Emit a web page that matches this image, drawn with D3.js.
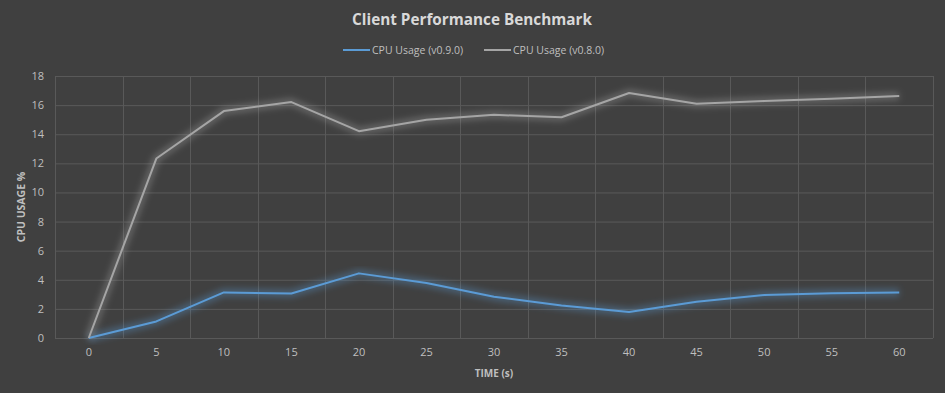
<!DOCTYPE html>
<html>
<head>
<meta charset="utf-8">
<script src="https://cdn.jsdelivr.net/npm/d3@7"></script>
<style>
  body { margin: 0; background: #404040; }
  svg { display: block; }
</style>
</head>
<body>
<svg id="chart"></svg>
<script>
// Chart data
const times = [0, 5, 10, 15, 20, 25, 30, 35, 40, 45, 50, 55, 60];
const cpuV090 = [0, 1.14, 3.13, 3.06, 4.44, 3.78, 2.84, 2.24, 1.78, 2.49, 2.95, 3.08, 3.13];
const cpuV080 = [0, 12.33, 15.59, 16.21, 14.21, 14.99, 15.33, 15.17, 16.83, 16.09, 16.28, 16.44, 16.62];
const yTicks = [0, 2, 4, 6, 8, 10, 12, 14, 16, 18];

const series = [
    {name: "CPU Usage (v0.9.0)", values: cpuV090, color: "#5b9bd5"},
    {name: "CPU Usage (v0.8.0)", values: cpuV080, color: "#a5a5a5"}
];

const W = 945, H = 393;
const margin = {top: 76, right: 12, bottom: 55, left: 55};
const width = W - margin.left - margin.right,
    height = H - margin.top - margin.bottom;

const root = d3.select("#chart")
    .attr("width", W)
    .attr("height", H)
    .style("font-family", "'Open Sans', 'Noto Sans', sans-serif");

root.append("rect")
    .attr("width", W)
    .attr("height", H)
    .attr("fill", "#404040");

// glow filter for the lines
const defs = root.append("defs");
const glow = defs.append("filter")
    .attr("id", "glow")
    .attr("x", "-10%").attr("y", "-10%")
    .attr("width", "120%").attr("height", "120%");
glow.append("feGaussianBlur")
    .attr("stdDeviation", 3);

const svg = root.append("g")
    .attr("transform", `translate(${margin.left},${margin.top})`);

// Scales: category axis, points in the middle of each band
const x = d3.scaleBand()
    .domain(times)
    .range([0, width]);

const y = d3.scaleLinear()
    .domain([0, 18])
    .range([height, 0]);

const px = d => x(d) + x.bandwidth() / 2;

// Gridlines
svg.append("g")
    .selectAll("line")
    .data(yTicks)
    .join("line")
    .attr("x1", 0)
    .attr("x2", width)
    .attr("y1", d => y(d) + 0.5)
    .attr("y2", d => y(d) + 0.5)
    .attr("stroke", "#595959")
    .attr("stroke-width", 1);

const edges = times.map(t => x(t)).concat([width]);
svg.append("g")
    .selectAll("line")
    .data(edges)
    .join("line")
    .attr("x1", d => Math.round(d) + 0.5)
    .attr("x2", d => Math.round(d) + 0.5)
    .attr("y1", 0)
    .attr("y2", height)
    .attr("stroke", "#595959")
    .attr("stroke-width", 1);

// Axes (labels only)
const xAxis = svg.append("g")
    .attr("transform", `translate(0,${height})`)
    .call(d3.axisBottom(x).tickSize(0).tickPadding(10));
xAxis.select(".domain").remove();
xAxis.selectAll("text")
    .attr("fill", "#bfbfbf")
    .attr("font-size", "11px")
    .attr("font-family", "'Open Sans', 'Noto Sans', sans-serif");

const yAxis = svg.append("g")
    .call(d3.axisLeft(y).tickValues(yTicks).tickSize(0).tickPadding(11));
yAxis.select(".domain").remove();
yAxis.selectAll("text")
    .attr("fill", "#bfbfbf")
    .attr("font-size", "11px")
    .attr("font-family", "'Open Sans', 'Noto Sans', sans-serif");

// Lines
const line = d3.line()
    .x((d, i) => px(times[i]))
    .y(d => y(d));

series.forEach(s => {
    svg.append("path")
        .datum(s.values)
        .attr("fill", "none")
        .attr("stroke", s.color)
        .attr("stroke-width", 8)
        .attr("stroke-opacity", 0.35)
        .attr("stroke-linejoin", "round")
        .attr("filter", "url(#glow)")
        .attr("d", line);
});

series.forEach(s => {
    svg.append("path")
        .datum(s.values)
        .attr("fill", "none")
        .attr("stroke", s.color)
        .attr("stroke-width", 2)
        .attr("stroke-linejoin", "round")
        .attr("d", line);
});

// Title
root.append("text")
    .attr("x", 472)
    .attr("y", 25)
    .attr("text-anchor", "middle")
    .attr("fill", "#d9d9d9")
    .attr("font-size", "15.3px")
    .attr("font-weight", "bold")
    .text("Client Performance Benchmark");

// Legend
const legendX = [343, 484];
series.forEach((s, i) => {
    const g = root.append("g")
        .attr("transform", `translate(${legendX[i]},50)`);
    g.append("line")
        .attr("x1", 0)
        .attr("x2", 27)
        .attr("stroke", s.color)
        .attr("stroke-width", 2);
    g.append("text")
        .attr("x", 29)
        .attr("y", 4)
        .attr("fill", "#bfbfbf")
        .attr("font-size", "10.5px")
        .text(s.name);
});

// Axis titles
root.append("text")
    .attr("transform", `translate(25,${margin.top + height / 2}) rotate(-90)`)
    .attr("text-anchor", "middle")
    .attr("fill", "#bfbfbf")
    .attr("font-size", "10.5px")
    .attr("font-weight", "bold")
    .text("CPU USAGE %");

root.append("text")
    .attr("x", margin.left + width / 2)
    .attr("y", 377)
    .attr("text-anchor", "middle")
    .attr("fill", "#bfbfbf")
    .attr("font-size", "10px")
    .attr("font-weight", "bold")
    .text("TIME (s)");
</script>
</body>
</html>
